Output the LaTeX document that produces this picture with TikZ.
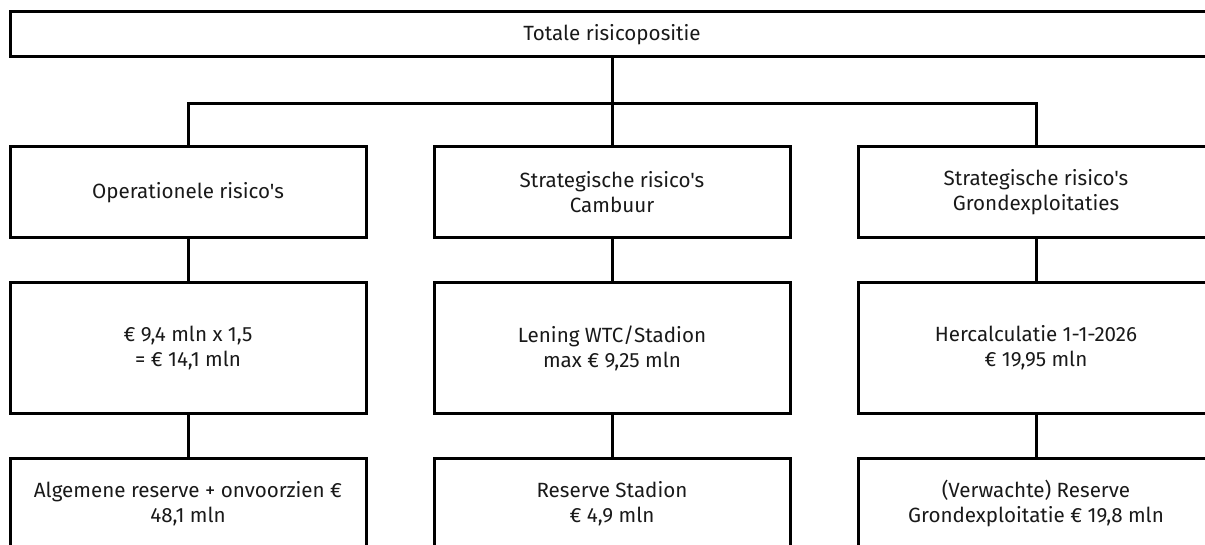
\documentclass[tikz,border=0pt]{standalone}
\usepackage{fontspec}
\setmainfont{Fira Sans}[Ligatures=TeXOff]
\begin{document}
\begin{tikzpicture}[
    x=0.5pt, y=-0.5pt,
    box/.style={rectangle, draw, line width=1.5pt, minimum width=178pt, align=center, text=black!90, font=\fontsize{10.3}{12.5}\selectfont, inner sep=0pt},
    link/.style={line width=1.5pt}
]
\useasboundingbox (0,0) rectangle (1205,545);
\clip (0,0) rectangle (1205,545);

% Top box
\node[box, minimum width=602pt, minimum height=22.5pt] (total) at (612,34.5) {Totale risicopositie};

% Risk types
\node[box, minimum height=45.5pt] (ops) at (188,192.5) {Operationele risico's};
\node[box, minimum height=45.5pt] (camb) at (612,192.5) {Strategische risico's\\Cambuur};
\node[box, minimum height=45.5pt] (grex) at (1036,192.5) {Strategische risico's\\Grondexploitaties};

% Amounts
\node[box, minimum height=65pt] (opsamt) at (188,348) {€ 9,4 mln x 1,5\\= € 14,1 mln};
\node[box, minimum height=65pt] (cambamt) at (612,348) {Lening WTC/Stadion\\max € 9,25 mln};
\node[box, minimum height=65pt] (grexamt) at (1036,348) {Hercalculatie 1-1-2026\\€ 19,95 mln};

% Reserves
\node[box, minimum height=45.5pt] (opsres) at (188,503.5) {Algemene reserve + onvoorzien €\\48,1 mln};
\node[box, minimum height=45.5pt] (cambres) at (612,503.5) {Reserve Stadion\\€ 4,9 mln};
\node[box, minimum height=45.5pt] (grexres) at (1036,503.5) {(Verwachte) Reserve\\Grondexploitatie € 19,8 mln};

% Connectors
\draw[link] (total.south) -- ++(0,45) -| (ops.north);
\draw[link] (total.south) -- (camb.north);
\draw[link] (total.south) -- ++(0,45) -| (grex.north);
\draw[link] (ops) -- (opsamt);
\draw[link] (camb) -- (cambamt);
\draw[link] (grex) -- (grexamt);
\draw[link] (opsamt) -- (opsres);
\draw[link] (cambamt) -- (cambres);
\draw[link] (grexamt) -- (grexres);
\end{tikzpicture}
\end{document}
